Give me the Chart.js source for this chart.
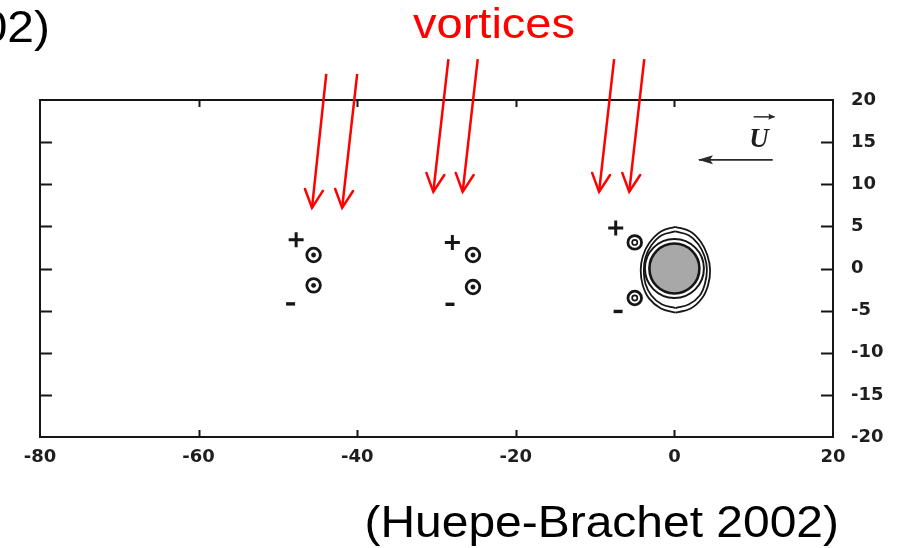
<!DOCTYPE html>
<html>
<head>
<meta charset="utf-8">
<script src="https://cdn.jsdelivr.net/npm/chart.js@4/dist/chart.umd.min.js"></script>
<style>
  html, body { margin: 0; padding: 0; background: #fff; }
  #wrap { width: 901px; height: 548px; position: relative; }
</style>
</head>
<body>
<div id="wrap"><canvas id="c"></canvas></div>
<script>
// Tick values of the two axes
const xTicks = [-80, -60, -40, -20, 0, 20];
const yTicks = [-20, -15, -10, -5, 0, 5, 10, 15, 20];

// Vortex cores shed behind the cylinder (three pairs)
const vortexX = [-45.5, -45.5, -25.4, -25.4, -5.0, -5.0];
const vortexY = [1.6, -2.0, 1.6, -2.2, 3.1, -3.5];

// Sign of circulation next to each pair
const plusX = [-47.7, -28.0, -7.4];
const plusY = [3.4, 3.1, 4.8];
const minusX = [-48.4, -28.3, -7.1];
const minusY = [-4.2, -4.25, -5.1];

// Cylinder centre
const cylinderX = [0];
const cylinderY = [0];

// Density contours around the cylinder, right and left halves
const outerRight = [[0.1, 4.95], [2.0, 4.4], [3.3, 3.2], [4.15, 1.6], [4.5, -0.2], [4.25, -1.95], [3.5, -3.5], [2.05, -4.75], [0.15, -5.25]];
const outerLeft = [[0.1, 4.95], [-1.7, 4.4], [-3.2, 3.0], [-4.0, 1.4], [-4.25, -0.2], [-4.0, -1.95], [-3.2, -3.55], [-1.7, -4.75], [0.15, -5.25]];
const innerRight = [[0.1, 4.4], [1.8, 3.95], [3.0, 2.9], [3.8, 1.45], [4.1, -0.15], [3.85, -1.8], [3.2, -3.2], [1.85, -4.25], [0.15, -4.7]];
const innerLeft = [[0.1, 4.4], [-1.6, 3.95], [-2.9, 2.75], [-3.65, 1.3], [-3.85, -0.15], [-3.65, -1.8], [-2.9, -3.2], [-1.6, -4.25], [0.15, -4.7]];

// Pointer arrows from the label down to the vortices: [x0, y0, x1, y1]
const pointerArrows = [
  [-43.9, 23.1, -45.7, 7.2],
  [-40.0, 23.1, -41.9, 7.2],
  [-28.5, 24.85, -30.4, 9.1],
  [-24.8, 24.85, -26.7, 9.1],
  [-7.6, 24.85, -9.5, 9.1],
  [-3.8, 24.85, -5.7, 9.1]
];

// Free-stream velocity arrow and the vector sign over U
const flowArrow = [12.4, 12.9, 3.1, 12.9];
const vecArrow = [10.0, 18.0, 12.6, 18.0];
const flowLabelPos = [10.66, 15.6];

const pts = (xs, ys) => xs.map((x, i) => ({ x, y: ys[i] }));
const pairs = a => a.map(p => ({ x: p[0], y: p[1] }));

const ink = '#161616';

const contour = data => ({
  data: pairs(data), showLine: true, tension: 0.4, borderColor: ink,
  borderWidth: 1.8, pointRadius: 0, fill: false
});

const arrowSet = (a, color, width, head) => ({
  data: [{ x: a[0], y: a[1] }, { x: a[2], y: a[3] }],
  showLine: true, borderColor: color, borderWidth: width, pointRadius: 0,
  clip: false, fill: false, arrowHead: head
});

const datasets = [
  // vortex centres (first two pairs: solid dots)
  { data: pts(vortexX.slice(0, 4), vortexY.slice(0, 4)), pointStyle: 'circle', pointRadius: 2.2,
    pointBackgroundColor: ink, pointBorderColor: ink, pointBorderWidth: 0.5 },
  // vortex centres (pair nearest the cylinder: small rings)
  { data: pts(vortexX.slice(4), vortexY.slice(4)), pointStyle: 'circle', pointRadius: 2.6,
    pointBackgroundColor: 'rgba(0,0,0,0)', pointBorderColor: ink, pointBorderWidth: 1.7 },
  // vortex rings
  { data: pts(vortexX, vortexY), pointStyle: 'circle', pointRadius: 6.8,
    pointBackgroundColor: 'rgba(0,0,0,0)', pointBorderColor: ink, pointBorderWidth: 2.8 },
  // + signs
  { data: pts(plusX, plusY), pointStyle: 'cross', pointRadius: 7.5,
    pointBorderColor: ink, pointBorderWidth: 3 },
  // - signs
  { data: pts(minusX, minusY), pointStyle: 'line', pointRadius: 4.5,
    pointBorderColor: ink, pointBorderWidth: 3.4 },
  // cylinder
  { data: pts(cylinderX, cylinderY), pointStyle: 'circle', pointRadius: 25,
    pointBackgroundColor: '#a8a8a8', pointBorderColor: ink, pointBorderWidth: 2.6 },
  // closest contour, a circle round the cylinder
  { data: pts(cylinderX, cylinderY), pointStyle: 'circle', pointRadius: 29.5,
    pointBackgroundColor: 'rgba(0,0,0,0)', pointBorderColor: ink, pointBorderWidth: 2 },
  contour(outerRight), contour(outerLeft), contour(innerRight), contour(innerLeft),
  arrowSet(flowArrow, '#2a2a2a', 1.8, 'filled'),
  arrowSet(vecArrow, '#2a2a2a', 1.5, 'small'),
  ...pointerArrows.map(a => arrowSet(a, '#ff0000', 2.5, 'open'))
];

// Frame and inward tick marks on all four sides
const framePlugin = {
  id: 'frame',
  beforeDatasetsDraw(chart) {
    const { ctx, chartArea: a, scales } = chart;
    ctx.save();
    ctx.strokeStyle = ink;
    ctx.lineWidth = 2;
    ctx.strokeRect(a.left, a.top, a.right - a.left, a.bottom - a.top);
    ctx.beginPath();
    scales.x.ticks.forEach(t => {
      if (t.value === scales.x.min || t.value === scales.x.max) return;
      const px = Math.round(scales.x.getPixelForValue(t.value)) + 0.5;
      ctx.moveTo(px, a.bottom); ctx.lineTo(px, a.bottom - 7);
      ctx.moveTo(px, a.top); ctx.lineTo(px, a.top + 7);
    });
    scales.y.ticks.forEach(t => {
      if (t.value === scales.y.min || t.value === scales.y.max) return;
      const py = Math.round(scales.y.getPixelForValue(t.value)) + 0.5;
      ctx.moveTo(a.left, py); ctx.lineTo(a.left + 12, py);
      ctx.moveTo(a.right, py); ctx.lineTo(a.right - 12, py);
    });
    ctx.stroke();
    ctx.restore();
  }
};

// Arrow heads at the end of each arrow dataset
const arrowPlugin = {
  id: 'arrowHeads',
  afterDatasetsDraw(chart) {
    const ctx = chart.ctx;
    chart.data.datasets.forEach((ds, i) => {
      if (!ds.arrowHead) return;
      const pts = chart.getDatasetMeta(i).data;
      const p0 = pts[0], p1 = pts[pts.length - 1];
      const ang = Math.atan2(p1.y - p0.y, p1.x - p0.x);
      ctx.save();
      ctx.translate(p1.x, p1.y);
      ctx.rotate(ang);
      ctx.strokeStyle = ds.borderColor;
      ctx.fillStyle = ds.borderColor;
      if (ds.arrowHead === 'open') {
        ctx.lineWidth = ds.borderWidth;
        ctx.lineCap = 'round';
        ctx.beginPath();
        ctx.moveTo(-18, -9); ctx.lineTo(0, 0); ctx.lineTo(-18, 9);
        ctx.stroke();
      } else if (ds.arrowHead === 'filled') {
        ctx.beginPath();
        ctx.moveTo(1, 0); ctx.lineTo(-14, -4.5); ctx.lineTo(-11, 0); ctx.lineTo(-14, 4.5);
        ctx.closePath();
        ctx.fill();
      } else {
        ctx.beginPath();
        ctx.moveTo(1, 0); ctx.lineTo(-6, -3); ctx.lineTo(-5, 0); ctx.lineTo(-6, 3);
        ctx.closePath();
        ctx.fill();
      }
      ctx.restore();
    });
  }
};

// Free text: caption, pointer label and the U symbol
const textPlugin = {
  id: 'texts',
  afterDraw(chart) {
    const { ctx, scales } = chart;
    const put = (txt, x, y, font, color, align, sx) => {
      ctx.save();
      ctx.translate(x, y);
      ctx.scale(sx, 1);
      ctx.font = font;
      ctx.fillStyle = color;
      ctx.textAlign = align;
      ctx.textBaseline = 'alphabetic';
      ctx.fillText(txt, 0, 0);
      ctx.restore();
    };
    put('vortices', 494, 38, '42px "Liberation Sans", Arial, sans-serif', '#ff0000', 'center', 1.12);
    put('(Huepe-Brachet 2002)', 839, 537, '44px "Liberation Sans", Arial, sans-serif', '#000', 'right', 1.09);
    put('2002)', 50, 42, '44px "Liberation Sans", Arial, sans-serif', '#000', 'right', 1.09);
    const ux = scales.x.getPixelForValue(flowLabelPos[0]);
    const uy = scales.y.getPixelForValue(flowLabelPos[1]);
    put('U', ux, uy + 10, 'italic bold 27px "Liberation Serif", serif', '#1e1e1e', 'center', 1);
  }
};

const tickFont = { family: '"DejaVu Sans", sans-serif', weight: 'bold', size: 18 };

new Chart(document.getElementById('c'), {
  type: 'scatter',
  data: { datasets },
  plugins: [framePlugin, arrowPlugin, textPlugin],
  options: {
    responsive: true,
    maintainAspectRatio: false,
    animation: false,
    events: [],
    layout: { padding: { left: 40, top: 100, right: 0, bottom: 0 } },
    plugins: { legend: { display: false }, tooltip: { enabled: false }, title: { display: false } },
    scales: {
      x: {
        type: 'linear', position: 'bottom', min: -80, max: 20,
        afterBuildTicks: s => { s.ticks = xTicks.map(v => ({ value: v })); },
        afterFit: s => { s.height = 111; },
        grid: { display: false, drawTicks: false },
        border: { display: false },
        ticks: { color: '#1e1e1e', font: tickFont, padding: 10, maxRotation: 0, autoSkip: false }
      },
      y: {
        type: 'linear', position: 'right', min: -20, max: 20,
        afterBuildTicks: s => { s.ticks = yTicks.map(v => ({ value: v })); },
        afterFit: s => { s.width = 68; },
        grid: { display: false, drawTicks: false },
        border: { display: false },
        ticks: { color: '#1e1e1e', font: tickFont, padding: 18, autoSkip: false }
      }
    }
  }
});
</script>
</body>
</html>
